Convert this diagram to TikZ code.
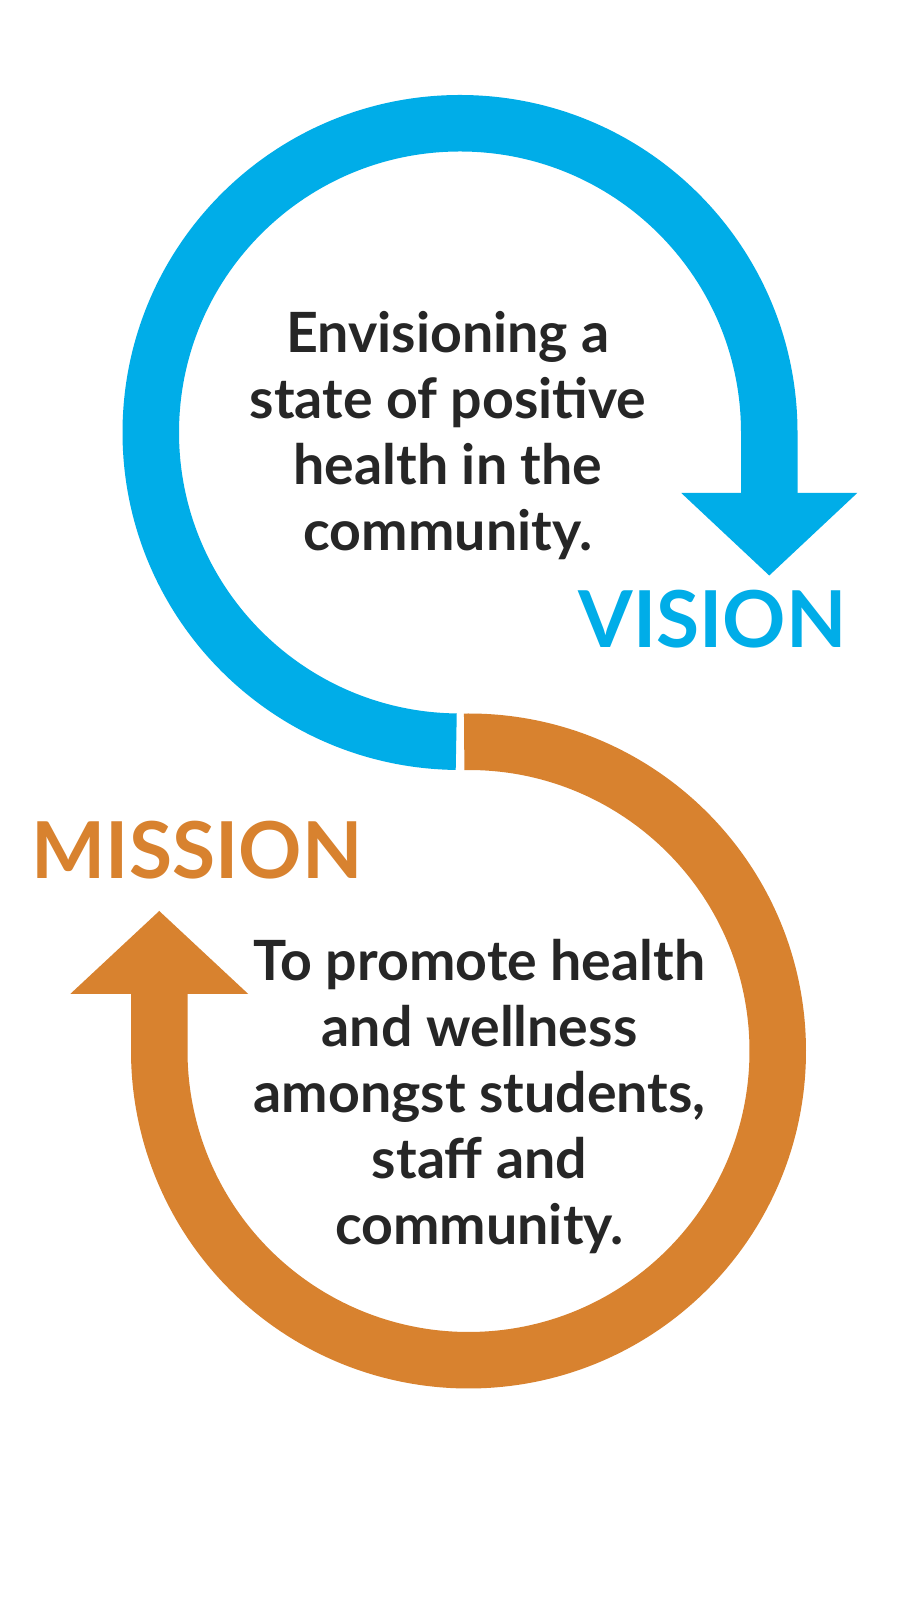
\documentclass[tikz,border=0pt]{standalone}
\usepackage{fontspec}
\setmainfont{Lato}
\definecolor{visionblue}{HTML}{00ADE8}
\definecolor{missionorange}{HTML}{D8822F}
\definecolor{textdark}{HTML}{262626}
\begin{document}
\begin{tikzpicture}[x=1pt,y=1pt,
  band/.style={line width=56.5pt},
  bodytext/.style={font=\fontsize{55.5}{66}\selectfont\bfseries, text=textdark, align=center, inner sep=0pt, anchor=base},
  titletext/.style={font=\fontsize{78.5}{80}\selectfont\bfseries, inner sep=0pt, anchor=base}]
\useasboundingbox[fill=white] (0,0) rectangle (900,1605);
% vision loop
\coordinate (vc) at (460,1172.5);
\draw[band, draw=visionblue] ([shift={(269.3:309.25)}]vc) arc[start angle=269.3, end angle=0, radius=309.25] -- ++(0,-61.5) coordinate (vb);
\coordinate (vbase) at ([yshift=1pt]vb);
\fill[visionblue] ([xshift=-88pt]vbase) -- ([xshift=88pt]vbase) -- ([yshift=-82.5pt]vbase) -- cycle;
% mission loop
\coordinate (mc) at (468.5,554);
\draw[band, draw=missionorange] ([shift={(90.8:309.25)}]mc) arc[start angle=90.8, end angle=-180, radius=309.25] -- ++(0,58) coordinate (mb);
\coordinate (mbase) at ([yshift=-1pt]mb);
\fill[missionorange] ([xshift=-89pt]mbase) -- ([xshift=89pt]mbase) -- ([yshift=83pt]mbase) -- cycle;
% texts
\node[bodytext] (visiontext) at (448,1054) {Envisioning a\\state of positive\\health in the\\community.};
\node[titletext, text=visionblue] (vision) at (712.5,957) {VISION};
\node[titletext, text=missionorange] (mission) at (197,726) {MISSION};
\node[bodytext] (missiontext) at (479.5,360) {To promote health\\and wellness\\amongst students,\\staff and\\community.};
\end{tikzpicture}
\end{document}
